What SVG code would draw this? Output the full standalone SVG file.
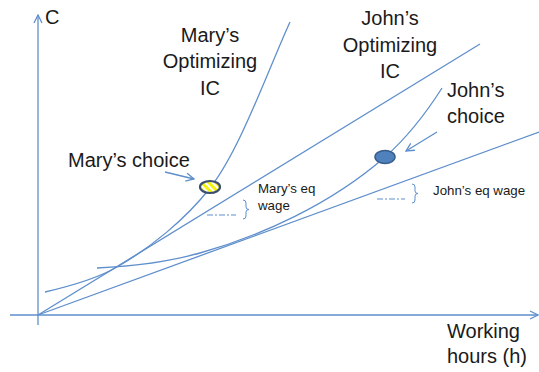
<svg xmlns="http://www.w3.org/2000/svg" width="539" height="372" viewBox="0 0 539 372">
<defs>
<style>
.ln{fill:none;stroke:#5f8fcc;stroke-width:1.3}
.big{font-family:"Liberation Sans",Arial,sans-serif;font-size:20px;fill:#1a1a1a}
.sm{font-family:"Liberation Sans",Arial,sans-serif;font-size:13.3px;fill:#1a1a1a}
.dash{fill:none;stroke:#5f8fcc;stroke-width:1;stroke-dasharray:6,2,2,2}
</style>
<pattern id="hatch" width="5" height="5" patternUnits="userSpaceOnUse" patternTransform="rotate(-45)">
<rect width="5" height="5" fill="#f2f20a"/>
<rect width="2" height="5" fill="#ffffff"/>
</pattern>
<marker id="open" viewBox="0 0 10 10" refX="9" refY="5" markerWidth="10" markerHeight="10" markerUnits="userSpaceOnUse" orient="auto">
<path d="M1,1 L9,5 L1,9" fill="none" stroke="#5f8fcc" stroke-width="1.3"/>
</marker>
</defs>
<rect width="539" height="372" fill="#ffffff"/>
<g id="axes">
<line class="ln" x1="38" y1="325" x2="38" y2="15" marker-end="url(#open)"/>
<line class="ln" x1="10" y1="315" x2="538" y2="315" marker-end="url(#open)"/>
<text class="big" x="45" y="24">C</text>
<text class="big" x="447" y="338">Working</text>
<text class="big" x="447" y="363">hours (h)</text>
</g>
<g id="connectors">
<line id="mary-budget" class="ln" x1="38" y1="315" x2="480" y2="44"/>
<line id="john-budget" class="ln" x1="38" y1="315" x2="539" y2="132"/>
<path id="mary-ic" class="ln" d="M45,292 C75,285 100,277 117,267 C150,248 185,220 210,188 C240,150 268,70 290,22"/>
<path id="john-ic" class="ln" d="M97,268 C140,266 175,260 200,253 C260,236 330,205 385,157 C410,135 428,110 442,88"/>
<line class="ln" x1="165" y1="172" x2="194" y2="179" marker-end="url(#open)"/>
<line class="ln" x1="437" y1="132" x2="406" y2="151" marker-end="url(#open)"/>
</g>
<g id="mary-ic-label">
<text class="big" x="210" y="42" text-anchor="middle">Mary’s</text>
<text class="big" x="210" y="68" text-anchor="middle">Optimizing</text>
<text class="big" x="210" y="95" text-anchor="middle">IC</text>
</g>
<g id="john-ic-label">
<text class="big" x="390" y="25" text-anchor="middle">John’s</text>
<text class="big" x="390" y="52" text-anchor="middle">Optimizing</text>
<text class="big" x="390" y="78" text-anchor="middle">IC</text>
</g>
<g id="mary-choice">
<ellipse cx="210" cy="187" rx="10" ry="6" fill="url(#hatch)" stroke="#3b4f72" stroke-width="2.2"/>
<text class="big" x="68" y="167">Mary’s choice</text>
</g>
<g id="john-choice">
<ellipse cx="385" cy="157" rx="10" ry="6.5" fill="#4f81bd" stroke="#385d8a" stroke-width="1.5"/>
<text class="big" x="447" y="97">John’s</text>
<text class="big" x="447" y="123">choice</text>
</g>
<g id="mary-eq-wage">
<line class="dash" x1="207" y1="215" x2="236" y2="215"/>
<path d="M243,200 Q246,200 246,203 L246,207 Q246,209.5 249,209.5 Q246,209.5 246,212 L246,216 Q246,219 243,219" fill="none" stroke="#5f8fcc" stroke-width="1"/>
<text class="sm" x="258" y="193">Mary’s eq</text>
<text class="sm" x="258" y="210">wage</text>
</g>
<g id="john-eq-wage">
<line class="dash" x1="377" y1="199" x2="405" y2="199"/>
<path d="M412,184 Q415,184 415,187 L415,191 Q415,193.5 418,193.5 Q415,193.5 415,196 L415,200 Q415,203 412,203" fill="none" stroke="#5f8fcc" stroke-width="1"/>
<text class="sm" x="433" y="195">John’s eq wage</text>
</g>
</svg>
